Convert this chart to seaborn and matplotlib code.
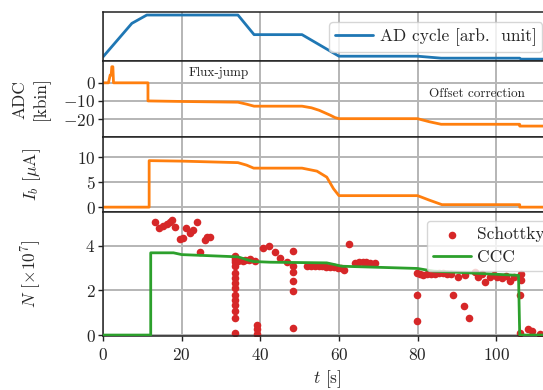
import matplotlib
matplotlib.use("Agg")
import matplotlib.pyplot as plt
import seaborn as sns

# AD cycle (arbitrary units)
t_ad = [0, 7.3, 11.1, 34.3, 38.4, 50.6, 60.0, 80.0, 86.0, 106.0, 106.3, 114]
ad_cycle = [0.09, 0.77, 0.94, 0.94, 0.54, 0.54, 0.10, 0.10, 0.06, 0.06, 0.04, 0.04]

# ADC reading [kbin]
t_adc = [0, 1.35, 1.78, 2.04, 2.2, 2.47, 2.63, 11.4, 11.4, 20, 34.3, 36.5, 38.4,
         50.6, 53.0, 55.0, 57.8, 59.0, 60.0, 80.0, 83.0, 86.0, 106.0, 106.0, 114]
adc = [0, 0, 4.3, 4.3, 8.9, 8.9, 0, 0, -10.0, -10.3, -10.7, -11.8, -12.9,
       -12.9, -13.8, -15.2, -17.9, -19.2, -19.8, -19.8, -21.5, -22.9, -22.9, -23.9, -23.9]

# beam current I_b [uA]
t_ib = [0, 11.7, 11.7, 20, 34.3, 36.5, 38.3, 50.6, 54.4, 56.9, 58.6, 60.0,
        80.0, 83.0, 86.2, 106.0, 106.0, 114]
ib = [0, 0, 9.3, 9.2, 8.9, 8.4, 7.8, 7.8, 7.2, 6.0, 3.7, 2.3,
      2.3, 1.4, 0.5, 0.5, 0.0, 0.0]

# CCC particle number [x1e7]
t_ccc = [0, 12.1, 12.1, 17.9, 20, 34.3, 36.6, 38.3, 42.5, 56.9, 59.0, 60.7,
         80.0, 82.0, 84.2, 105.7, 106.0, 114]
ccc = [0, 0, 3.68, 3.68, 3.60, 3.50, 3.37, 3.29, 3.26, 3.23, 3.15, 3.08,
       2.98, 2.92, 2.86, 2.67, 0.0, 0.0]

# Schottky particle number [x1e7]
schottky_t = [13.2, 14.1, 15.2, 16.2, 17.0, 17.5, 18.3, 19.6, 20.3, 21.1, 22.1, 22.8,
              23.8, 24.7, 25.9, 26.4, 27.2,
              33.6, 33.6, 33.6, 33.6, 33.6, 33.6, 33.6, 33.6, 33.6, 33.6, 33.6, 33.6,
              33.6, 33.6, 33.6,
              34.4, 35.7, 36.1, 37.0, 37.4, 38.7, 39.1, 39.1, 39.1,
              40.8, 42.1, 43.8, 45.0, 46.7, 48.2, 48.4, 48.4, 48.4, 48.4, 48.4,
              51.8, 52.8, 53.8, 54.8, 55.8, 56.8, 57.8, 58.8, 59.8, 60.5, 61.2, 62.6,
              64.1, 65.0, 66.0, 67.0, 68.0, 69.2,
              79.8, 79.8, 79.8, 80.6, 81.5, 82.5, 83.5, 84.5, 85.5, 86.5, 87.5, 88.5,
              88.9, 90.3, 91.8, 92.0, 93.1, 94.6, 95.4, 96.5, 97.1, 98.4, 99.5, 100.1,
              101.4, 102.5, 103.5, 104.5, 106.4, 106.4, 106.2, 106.2, 108.1, 109.2, 111.1]
schottky_n = [5.07, 4.77, 4.89, 4.99, 5.04, 5.14, 4.84, 4.30, 4.36, 4.80, 4.55, 4.70,
              5.07, 3.73, 4.25, 4.41, 4.40,
              3.56, 3.45, 3.29, 3.07, 2.77, 2.55, 2.33, 2.10, 1.81, 1.58, 1.36, 1.07,
              0.77, 0.10, 3.38,
              3.32, 3.32, 3.38, 3.36, 3.39, 3.32, 0.47, 0.25, 0.03,
              3.88, 3.98, 3.70, 3.44, 3.29, 3.76, 3.07, 2.84, 2.40, 1.96, 0.30,
              3.09, 3.08, 3.08, 3.07, 3.07, 3.06, 3.05, 3.04, 3.02, 3.00, 2.92, 4.06,
              3.22, 3.26, 3.25, 3.26, 3.24, 3.22,
              2.76, 1.81, 0.65, 2.72, 2.70, 2.71, 2.73, 2.75, 2.76, 2.76, 2.75, 2.74,
              1.81, 2.62, 1.32, 2.70, 0.77, 2.84, 2.62, 2.72, 2.37, 2.62, 2.68, 2.62,
              2.55, 2.66, 2.44, 2.62, 2.72, 2.47, 1.81, 0.10, 0.25, 0.18, 0.06]

x_ticks = [0, 20, 40, 60, 80, 100]

sns.set_style("whitegrid", {"grid.color": "#b5b5b5", "axes.edgecolor": "#222222",
                            "xtick.bottom": True, "ytick.left": True})
plt.rcParams["font.family"] = ["cmr10", "DejaVu Serif"]
plt.rcParams["mathtext.fontset"] = "cm"
plt.rcParams["axes.formatter.use_mathtext"] = True
plt.rcParams["font.size"] = 12.5
plt.rcParams["grid.linewidth"] = 1.4
plt.rcParams["axes.linewidth"] = 1.1

blue, orange, green, red = "#1f77b4", "#ff7f0e", "#2ca02c", "#d62728"
leg_kw = dict(fontsize=12.5, framealpha=0.8, edgecolor="#cccccc", handlelength=2.2,
              handletextpad=0.35, borderpad=0.35)

fig = plt.figure(figsize=(5.43, 3.9), dpi=100)
gs = fig.add_gridspec(4, 1, height_ratios=[49, 76, 75, 124], hspace=0,
                      left=0.19, right=1.015, top=0.969, bottom=0.138)
ax1 = fig.add_subplot(gs[0])
ax2 = fig.add_subplot(gs[1], sharex=ax1)
ax3 = fig.add_subplot(gs[2], sharex=ax1)
ax4 = fig.add_subplot(gs[3], sharex=ax1)

# AD cycle
sns.lineplot(x=t_ad, y=ad_cycle, ax=ax1, color=blue, lw=2, estimator=None, sort=False,
             label="AD cycle [arb.  unit]")
ax1.set_ylim(0, 1)
ax1.set_yticks([])
ax1.grid(axis="y", visible=False)
ax1.legend(loc="center right", bbox_to_anchor=(1.0, 0.49), **leg_kw)

# ADC
sns.lineplot(x=t_adc, y=adc, ax=ax2, color=orange, lw=2, estimator=None, sort=False)
ax2.set_ylim(-30, 12)
ax2.set_yticks([0, -10, -20])
ax2.set_ylabel("ADC\n[kbin]", linespacing=1.4)
ax2.yaxis.set_label_coords(-0.118, 0.5)
ax2.text(29.5, 5.6, "Flux-jump", fontsize=9.5, ha="center", va="center")
ax2.text(95, -5.9, "Offset correction", fontsize=9.5, ha="center", va="center")

# beam current
sns.lineplot(x=t_ib, y=ib, ax=ax3, color=orange, lw=2, estimator=None, sort=False)
ax3.set_ylim(-1, 14)
ax3.set_yticks([0, 5, 10])
ax3.set_ylabel(r"$I_b$ [$\mu$A]")
ax3.yaxis.set_label_coords(-0.134, 0.5)

# particle number
sns.scatterplot(x=schottky_t, y=schottky_n, ax=ax4, color=red, s=30, linewidth=0,
                label="Schottky", zorder=2)
sns.lineplot(x=t_ccc, y=ccc, ax=ax4, color=green, lw=2, estimator=None, sort=False,
             label="CCC", zorder=3)
ax4.set_ylim(-0.05, 5.5)
ax4.set_yticks([0, 2, 4])
ax4.set_ylabel(r"$N$ [$\times 10^7$]")
ax4.yaxis.set_label_coords(-0.134, 0.5)
ax4.set_xlabel(r"$t$ [s]", labelpad=4)
ax4.legend(loc="upper right", bbox_to_anchor=(1.018, 1.0), labelspacing=0.45, **leg_kw)

ax4.set_xlim(0, 114)
ax4.set_xticks(x_ticks)
for ax in (ax1, ax2, ax3):
    ax.tick_params(axis="x", bottom=False, labelbottom=False)
for ax in (ax1, ax2, ax3, ax4):
    ax.tick_params(length=3.5, width=1, color="#222222", labelsize=12.5, pad=2)
    ax.set_axisbelow(True)
ax4.tick_params(axis="x", pad=4)

fig.savefig("out.png", dpi=100)
